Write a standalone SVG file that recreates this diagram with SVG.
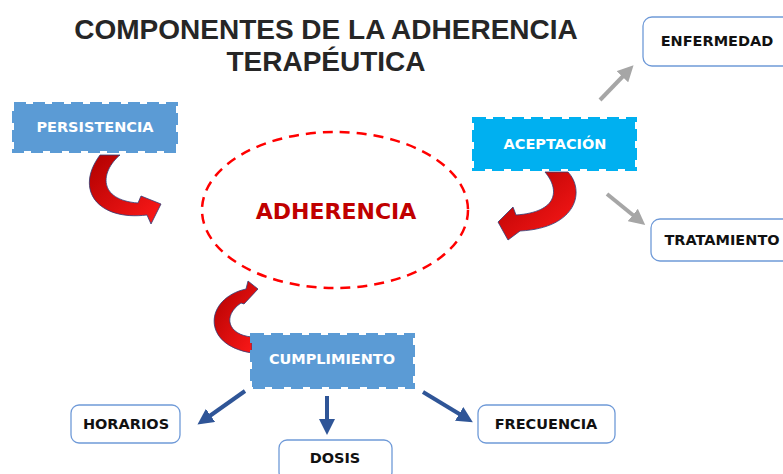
<svg xmlns="http://www.w3.org/2000/svg" width="783" height="474" viewBox="0 0 783 474">
<style>
.title{font-family:"Liberation Sans",Arial,sans-serif;font-weight:bold;font-size:28px;fill:#262626;text-anchor:middle}
.lbl{font-family:"DejaVu Sans",Verdana,sans-serif;font-weight:bold;font-size:14.5px;text-anchor:middle;dominant-baseline:central}
.wl{fill:#ffffff}
.bl{fill:#111111}
.box{fill:#ffffff;stroke:#6f9ad8;stroke-width:1.3}
.dbox{stroke-width:4;stroke-dasharray:12 7}
.gray{stroke:#a6a6a6;stroke-width:4;fill:none}
.blue{stroke:#2f5597;stroke-width:4;fill:none}
.curl{fill:url(#rg);stroke:#2f3f7a;stroke-width:0.8}
</style>
<defs>
<marker id="ag" viewBox="0 0 10 10" refX="5" refY="5" markerWidth="4" markerHeight="4" orient="auto"><path d="M0,0 L10,5 L0,10 Z" fill="#a6a6a6"/></marker>
<marker id="ab" viewBox="0 0 10 10" refX="5" refY="5" markerWidth="4" markerHeight="4" orient="auto"><path d="M0,0 L10,5 L0,10 Z" fill="#2f5597"/></marker>
<linearGradient id="rg" x1="0" y1="0" x2="1" y2="1"><stop offset="0" stop-color="#b00000"/><stop offset="1" stop-color="#ff1a1a"/></linearGradient>
</defs>
<text class="title" x="326" y="39">COMPONENTES DE LA ADHERENCIA</text>
<text class="title" x="326" y="71">TERAPÉUTICA</text>

<g id="connectors">
<line class="gray" x1="600" y1="100" x2="628" y2="71" marker-end="url(#ag)"/>
<line class="gray" x1="607" y1="194" x2="639" y2="220" marker-end="url(#ag)"/>
<line class="blue" x1="245" y1="391" x2="204" y2="420" marker-end="url(#ab)"/>
<line class="blue" x1="327" y1="396" x2="327" y2="427" marker-end="url(#ab)"/>
<line class="blue" x1="423" y1="392" x2="466" y2="418" marker-end="url(#ab)"/>
<path class="curl" d="M120,155 C100,172 98,200 138,203 L141,196 L161,204 L151,224 L147,215 C98,221 74,190 100,155 Z"/>
<path class="curl" d="M545,172 C560,190 558,212 516,215 L513,207 L498,222 L508,240 L520,231 C578,228 585,190 568,172 Z"/>
<path class="curl" d="M252,337 C228,335 222,316 241,303 L244,304 L258,289 L248,281 L246,289 C205,298 200,345 252,353 Z"/>
</g>

<g id="adherencia">
<ellipse cx="335" cy="210" rx="133" ry="78" fill="none" stroke="#ff0000" stroke-width="2.5" stroke-dasharray="10 7"/>
<text class="lbl" x="336" y="211" style="font-size:22px;fill:#c00000">ADHERENCIA</text>
</g>

<g id="persistencia">
<rect class="dbox" x="14" y="104" width="162" height="47" fill="#5b9bd5" stroke="#5b9bd5"/>
<text class="lbl wl" x="95" y="127">PERSISTENCIA</text>
</g>
<g id="aceptacion">
<rect class="dbox" x="474" y="119" width="161" height="50" fill="#00b0f0" stroke="#00b0f0"/>
<text class="lbl wl" x="555" y="144">ACEPTACIÓN</text>
</g>
<g id="cumplimiento">
<rect class="dbox" x="252" y="335" width="161" height="52" fill="#5b9bd5" stroke="#5b9bd5"/>
<text class="lbl wl" x="332" y="359">CUMPLIMIENTO</text>
</g>

<g id="enfermedad">
<rect class="box" x="643" y="17" width="150" height="49" rx="9"/>
<text class="lbl bl" x="717" y="41">ENFERMEDAD</text>
</g>
<g id="tratamiento">
<rect class="box" x="651" y="219" width="150" height="42" rx="9"/>
<text class="lbl bl" x="722" y="240">TRATAMIENTO</text>
</g>
<g id="horarios">
<rect class="box" x="71" y="405" width="109" height="38" rx="8"/>
<text class="lbl bl" x="126" y="424">HORARIOS</text>
</g>
<g id="dosis">
<rect class="box" x="279" y="440" width="113" height="40" rx="8"/>
<text class="lbl bl" x="335" y="458">DOSIS</text>
</g>
<g id="frecuencia">
<rect class="box" x="478" y="405" width="137" height="38" rx="8"/>
<text class="lbl bl" x="546" y="424">FRECUENCIA</text>
</g>
</svg>
